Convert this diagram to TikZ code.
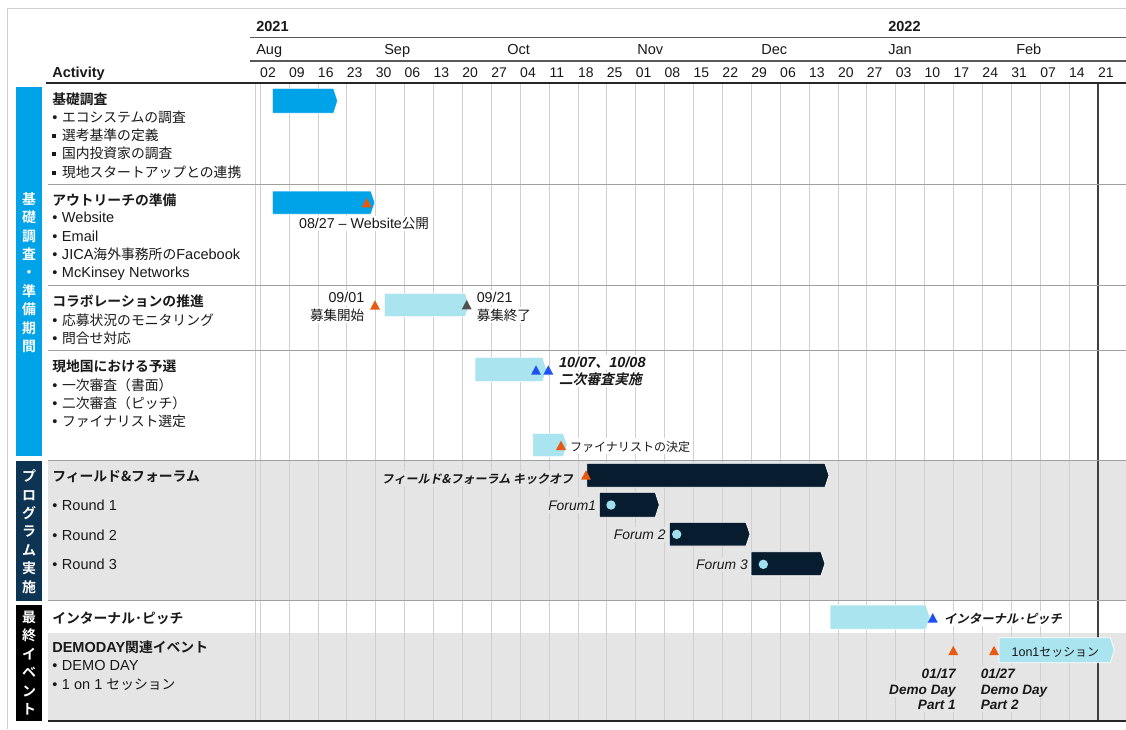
\documentclass[tikz,border=0pt]{standalone}
\usepackage{fontspec}
\setmainfont{Liberation Sans}
\newfontfamily\jp{Noto Sans CJK JP}[Scale=0.95, BoldFont={Noto Sans CJK JP Bold}, ItalicFont={Noto Sans CJK JP}, ItalicFeatures={FakeSlant=0.2}, BoldItalicFont={Noto Sans CJK JP Bold}, BoldItalicFeatures={FakeSlant=0.2}]
\newcommand{\J}[1]{{\jp #1}}
\newcommand{\sqb}{\makebox[7.3pt][l]{\raisebox{1.7pt}{\rule{3pt}{3pt}}}}
\newcommand{\rdb}{\makebox[7.3pt][l]{•}}
\definecolor{cblue}{RGB}{0,162,232}
\definecolor{clight}{RGB}{170,228,238}
\definecolor{cdark}{RGB}{7,28,46}
\definecolor{cnavy}{RGB}{14,52,84}
\definecolor{corange}{RGB}{232,88,16}
\definecolor{ctriblue}{RGB}{32,80,240}
\definecolor{cdgray}{RGB}{80,80,80}
\definecolor{cgraybg}{RGB}{229,229,229}
\definecolor{cgrid}{RGB}{208,208,208}
\definecolor{csep}{RGB}{160,160,160}
\definecolor{ccircle}{RGB}{160,224,238}
\definecolor{ctext}{RGB}{25,25,25}
\newcommand{\ganttbar}[5]{\path[barstyle,#1] (#2,#4) -- (#3,#4) -- ({#3+4},{(#4+#5)/2}) -- (#3,#5) -- (#2,#5) -- cycle;}
\newcommand{\mtri}[3]{\fill[#3] ({#1-5},{#2+4.7}) -- ({#1+5},{#2+4.7}) -- (#1,{#2-4.7}) -- cycle;}
\tikzset{
  txt/.style={inner sep=0pt, text height=9pt, text depth=1.5pt, anchor=west, text=ctext},
  hd/.style={txt, font=\fontsize{10.9}{12}\selectfont\bfseries},
  itm/.style={txt, font=\fontsize{10.9}{12}\selectfont},
  wk/.style={txt, anchor=center, font=\fontsize{10.5}{12}\selectfont},
  barstyle/.style={draw=white, line width=0.6pt},
  vtext/.style={inner sep=0pt, align=center, text=white, font=\fontsize{11}{13.8}\selectfont\bfseries\jp},
  lab/.style={txt, font=\fontsize{10.7}{12}\selectfont, fill=white, inner xsep=1.5pt, inner ysep=0.5pt},
  labs/.style={lab, font=\fontsize{9.5}{11}\selectfont},
  bilab/.style={lab, font=\fontsize{10.9}{12}\selectfont\bfseries\itshape},
  dlab/.style={lab, fill=cgraybg, font=\fontsize{10.2}{12}\selectfont\bfseries\itshape},
  bilabs/.style={lab, font=\fontsize{9.5}{11}\selectfont\bfseries\itshape},
  ilab/.style={lab, fill=cgraybg, font=\fontsize{10.4}{12}\selectfont\itshape},
}
\begin{document}
\begin{tikzpicture}[x=0.75pt,y=-0.75pt]
\useasboundingbox (0,0) rectangle (1126,729);
\fill[white] (0,0) rectangle (1126,729);
% outer frame
\draw[cgrid] (7,729) -- (7,8) -- (1126,8);
% gray rows
\fill[cgraybg] (48,460) rectangle (1126,600.7);
\fill[cgraybg] (48,633.3) rectangle (1126,721);
% vertical grid
\draw[cgrid] (255.7,83) -- (255.7,721);
\foreach \k in {0,...,28} \draw[cgrid] ({260+28.89*\k},83) -- ({260+28.89*\k},721);
\draw[line width=1.5pt, black!75] (1097.8,83) -- (1097.8,721);
% horizontal separators
\foreach \yy in {184,285,350.7,460,600.7} \draw[csep] (48,\yy) -- (1126,\yy);
% header lines
\draw[line width=1.2pt, black!65] (250,37.5) -- (1126,37.5);
\draw[line width=1.2pt, black!65] (250,61) -- (1126,61);
\draw[line width=1.6pt, black!85] (46,83) -- (1126,83);
\draw[line width=1.6pt, black!85] (48,721) -- (1126,721);
% header text
\node[hd] (y2021) at (256,26) {2021};
\node[hd] (y2022) at (888,26) {2022};
\foreach \m/\xx in {Aug/256, Sep/384, Oct/507, Nov/637, Dec/761, Jan/888, Feb/1016}
  \node[itm] (m\m) at (\xx,49) {\m};
\foreach \w [count=\i from 0] in {02,09,16,23,30,06,13,20,27,04,11,18,25,01,08,15,22,29,06,13,20,27,03,10,17,24,31,07,14,21}
  \node[wk] (w\i) at ({268+28.89*\i},72) {\w};
\node[hd] (act) at (52,72) {Activity};
% category bars
\fill[cblue] (16,87) rectangle (42,455.7);
\node[vtext] (cat1) at (29,272.5) {基\\礎\\調\\査\\・\\準\\備\\期\\間};
\fill[cnavy] (16,460.7) rectangle (42,600.7);
\node[vtext] (cat2) at (29,531.5) {プ\\ロ\\グ\\ラ\\ム\\実\\施};
\fill[black] (16,605) rectangle (42,720.7);
\node[vtext] (cat3) at (29,663) {最\\終\\イ\\ベ\\ン\\ト};
% left texts
\node[hd] (h1) at (52,99) {\J{基礎調査}};
\node[itm] (h1a) at (52,117) {\rdb\J{エコシステムの調査}};
\node[itm] (h1b) at (52,135.3) {\sqb\J{選考基準の定義}};
\node[itm] (h1c) at (52,153.7) {\sqb\J{国内投資家の調査}};
\node[itm] (h1d) at (52,172.2) {\sqb\J{現地スタートアップとの連携}};
\node[hd] (h2) at (52,200) {\J{アウトリーチの準備}};
\node[itm] (h2a) at (52,217.7) {\rdb Website};
\node[itm] (h2b) at (52,236.5) {\rdb Email};
\node[itm] (h2c) at (52,254.5) {\rdb JICA\J{海外事務所の}Facebook};
\node[itm] (h2d) at (52,272.7) {\rdb McKinsey Networks};
\node[hd] (h3) at (52,301.5) {\J{コラボレーションの推進}};
\node[itm] (h3a) at (52,320) {\rdb\J{応募状況のモニタリング}};
\node[itm] (h3b) at (52,338.3) {\rdb\J{問合せ対応}};
\node[hd] (h4) at (52,366.7) {\J{現地国における予選}};
\node[itm] (h4a) at (52,385) {\rdb\J{一次審査（書面）}};
\node[itm] (h4b) at (52,403.3) {\rdb\J{二次審査（ピッチ）}};
\node[itm] (h4c) at (52,421.7) {\rdb\J{ファイナリスト選定}};
\node[hd] (h5) at (52,476.7) {\J{フィールド\&フォーラム}};
\node[itm] (h5a) at (52,505.7) {\rdb Round 1};
\node[itm] (h5b) at (52,535) {\rdb Round 2};
\node[itm] (h5c) at (52,564.3) {\rdb Round 3};
\node[hd] (h6) at (52,618.3) {\J{インターナル･ピッチ}};
\node[hd] (h7) at (52,647.7) {DEMODAY\J{関連イベント}};
\node[itm] (h7a) at (52,665) {\rdb DEMO DAY};
\node[itm] (h7b) at (52,684) {\rdb 1 on 1 \J{セッション}};
% bars
\ganttbar{fill=cblue}{272.3}{333.7}{88.3}{113.3}
\ganttbar{fill=cblue}{272.3}{371}{191}{214.3}
\ganttbar{fill=clight}{384.3}{465.3}{293.3}{316.7}
\ganttbar{fill=clight}{475}{542.7}{357.3}{381.7}
\ganttbar{fill=clight}{532.7}{563.3}{433.3}{456.7}
\ganttbar{fill=cdark}{586.7}{825}{463.3}{487.3}
\ganttbar{fill=cdark}{599.3}{655.3}{492.3}{517.3}
\ganttbar{fill=cdark}{669.3}{746}{522.3}{546}
\ganttbar{fill=cdark}{751}{821}{551.7}{575.7}
\ganttbar{fill=clight}{830}{926}{605}{629.3}
\ganttbar{fill=clight}{999}{1110.3}{637.7}{662.7}
% markers
\mtri{366.7}{202.7}{corange}
\mtri{375}{305}{corange}
\mtri{466.7}{304.7}{cdgray}
\mtri{536}{370}{ctriblue}
\mtri{548.3}{370}{ctriblue}
\mtri{561}{445.3}{corange}
\mtri{586}{475}{corange}
\mtri{932.7}{617.8}{ctriblue}
\mtri{953.3}{650.5}{corange}
\mtri{994}{650.5}{corange}
\fill[ccircle] (611,505) circle (4.7);
\fill[ccircle] (676.7,534.3) circle (4.7);
\fill[ccircle] (763.3,564.3) circle (4.7);
% chart labels
\node[lab] (l1) at (296.8,223.3) {08/27 – Website\J{公開}};
\node[lab, anchor=east] (l2a) at (366.5,297.3) {09/01};
\node[lab, anchor=east] (l2b) at (366.5,315) {\J{募集開始}};
\node[lab] (l3a) at (474.5,297.3) {09/21};
\node[lab] (l3b) at (474.5,315) {\J{募集終了}};
\node[bilab] (l4a) at (556.8,362.7) {10/07\J{、}10/08};
\node[bilab] (l4b) at (556.8,379.3) {\J{二次審査実施}};
\node[labs] (l5) at (567.8,446) {\J{ファイナリストの決定}};
\node[bilabs, fill=cgraybg, anchor=east] (l6) at (575.5,478.5) {\J{フィールド\&フォーラム キックオフ}};
\node[ilab, anchor=east] (f1) at (598.3,505) {Forum1};
\node[ilab, anchor=east] (f2) at (667.8,534.3) {Forum 2};
\node[ilab, anchor=east] (f3) at (750,564.3) {Forum 3};
\node[bilabs, font=\fontsize{9.8}{11}\selectfont\bfseries\itshape] (l7) at (941.8,618.3) {\J{インターナル･ピッチ}};
\node[labs, fill=none, font=\fontsize{9.4}{11}\selectfont] (l8) at (1009.3,651) {1on1\J{セッション}};
\node[dlab, anchor=east] (d1a) at (958,673.3) {01/17};
\node[dlab, anchor=east] (d1b) at (958,689) {Demo Day};
\node[dlab, anchor=east] (d1c) at (958,704.3) {Part 1};
\node[dlab] (d2a) at (978.5,673.3) {01/27};
\node[dlab] (d2b) at (978.5,689) {Demo Day};
\node[dlab] (d2c) at (978.5,704.3) {Part 2};
\end{tikzpicture}
\end{document}
